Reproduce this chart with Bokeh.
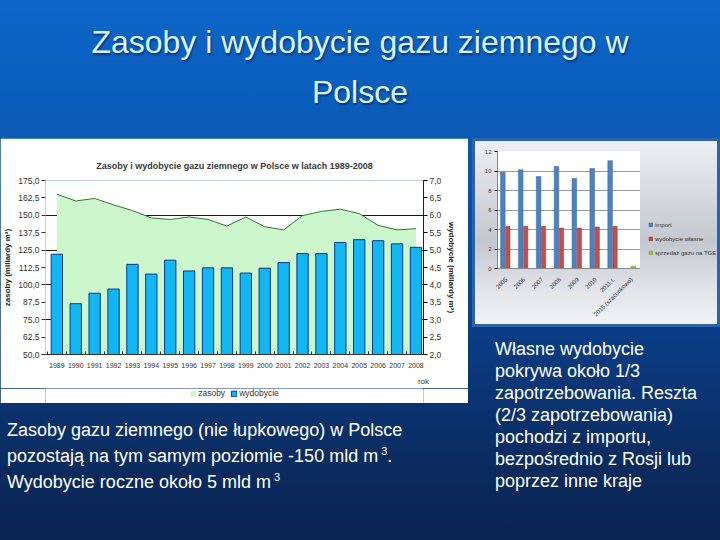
import numpy as np
from bokeh.plotting import figure
from bokeh.models import (Range1d, LinearAxis, FixedTicker, Legend, LegendItem,
                          ColumnDataSource, FactorRange, Spacer, Div)
from bokeh.layouts import column, row
from bokeh.embed import file_html
from bokeh.resources import INLINE
from bokeh.transform import dodge

FONT = "Liberation Sans"
SUP3 = "<sup style='font-size:11px;line-height:0;margin-left:3px'>3</sup>"

# ---------------- data ----------------
title_lines = ["Zasoby i wydobycie gazu ziemnego w", "Polsce"]
left_text = ["Zasoby gazu ziemnego (nie łupkowego) w Polsce",
             "pozostają na tym samym poziomie -150 mld m" + SUP3 + ".",
             "Wydobycie roczne około 5 mld m" + SUP3]
right_text = ["Własne wydobycie", "pokrywa około 1/3", "zapotrzebowania. Reszta",
              "(2/3 zapotrzebowania)", "pochodzi z importu,", "bezpośrednio z Rosji lub",
              "poprzez inne kraje"]

years = list(range(1989, 2009))
zasoby = [165.2, 160.3, 162.1, 157.5, 153.4, 148.1, 147.0, 148.8, 147.0, 142.3,
          148.8, 141.8, 139.5, 149.8, 152.8, 154.4, 151.2, 142.8, 139.5, 140.4]
wydobycie = [4.88, 3.46, 3.76, 3.88, 4.59, 4.31, 4.71, 4.40, 4.49, 4.49,
             4.34, 4.48, 4.64, 4.90, 4.90, 5.22, 5.30, 5.27, 5.18, 5.08]
zasoby_ticks = [50.0, 62.5, 75.0, 87.5, 100.0, 112.5, 125.0, 137.5, 150.0, 162.5, 175.0]
zasoby_tick_labels = ["50,0", "62,5", "75,0", "87,5", "100,0", "112,5", "125,0",
                      "137,5", "150,0", "162,5", "175,0"]
wyd_ticks = [2.0, 2.5, 3.0, 3.5, 4.0, 4.5, 5.0, 5.5, 6.0, 6.5, 7.0]
wyd_tick_labels = ["2,0", "2,5", "3,0", "3,5", "4,0", "4,5", "5,0", "5,5", "6,0", "6,5", "7,0"]

lata2 = ["2005", "2006", "2007", "2008", "2009", "2010", "2011 r.", "2015 (szacunkowo)"]
import_gazu = [9.86, 10.14, 9.44, 10.46, 9.23, 10.25, 11.06, np.nan]
wydobycie_wlasne = [4.33, 4.33, 4.33, 4.15, 4.15, 4.26, 4.33, np.nan]
sprzedaz_tge = [np.nan, np.nan, np.nan, np.nan, np.nan, np.nan, np.nan, 0.25]
ticks2 = [0, 2, 4, 6, 8, 10, 12]

AREA = dict(fill_color="#ccf6cc")
BAR = dict(fill_color="#12b6f2", line_color="#0a3a8a", line_width=1)
C_IMP = dict(fill_color="#4f81bd", line_color="#3b6aa0", line_width=0.5)
C_WYD = dict(fill_color="#c0504d", line_color="#9c3a38", line_width=0.5)
C_TGE = dict(fill_color="#9bbb59", line_color="#7a9a40", line_width=0.5)


def text_div(lines, w, h, pad_top, pad_left, size, lh, color, align="left", shadow=False):
    sh = "text-shadow: 1px 2px 2px rgba(0,20,70,0.55);" if shadow else ""
    body = "".join(f"<div style='white-space:nowrap;height:{lh}px;line-height:{lh}px'>{t}</div>"
                   for t in lines)
    html = (f"<div style='width:{w - pad_left}px;padding-top:{pad_top}px;padding-left:{pad_left}px;"
            f"font-family:\"{FONT}\";font-size:{size}px;color:{color};text-align:{align};{sh}'>"
            f"{body}</div>")
    return Div(text=html, width=w, height=h, margin=0,
               styles={"margin": "0", "padding": "0", "overflow": "hidden"})


def blank_fig(w, h, **kw):
    # a panel that only carries a legend; its own view (0..1) keeps the series out of sight
    f = figure(width=w, height=h, x_range=Range1d(0, 1), y_range=Range1d(0, 1),
               output_backend="svg", toolbar_location=None,
               x_axis_location=None, y_axis_location=None, **kw)
    f.grid.visible = False
    f.outline_line_color = None
    return f


# ---------------- title ----------------
tdiv = text_div(title_lines, 720, 138, 17, 0, 32, 50, "#dcf4ff", align="center", shadow=True)

# ---------------- left chart ----------------
lc = figure(width=468, height=250, x_range=Range1d(1988.4, 2008.4), y_range=Range1d(50, 175),
            output_backend="svg", toolbar_location=None,
            min_border_left=41, min_border_right=45, min_border_top=42, min_border_bottom=31)
lc.extra_y_ranges = {"w": Range1d(2, 7)}
lc.background_fill_color = "white"
lc.border_fill_color = "white"
lc.outline_line_color = None

lc.varea(x=years, y1=[50] * len(years), y2=zasoby, **AREA)
lc.line(x=years, y=zasoby, line_color="#2d7a2d", line_width=1)
lc.vbar(x=years, top=wydobycie, bottom=2, width=0.6, y_range_name="w", **BAR)

lc.title.text = "Zasoby i wydobycie gazu ziemnego w Polsce w latach 1989-2008"
lc.title.align = "center"
lc.title.text_font = FONT
lc.title.text_font_size = "9px"
lc.title.text_font_style = "bold"
lc.title.text_color = "#3a3a3a"
lc.title.standoff = 20

lc.xgrid.visible = False
lc.ygrid.ticker = FixedTicker(ticks=[75, 100, 125, 150, 175])
lc.ygrid.grid_line_color = "#1a1a1a"
lc.ygrid.grid_line_width = 1

ya = lc.yaxis[0]
ya.ticker = FixedTicker(ticks=zasoby_ticks)
ya.major_label_overrides = dict(zip(zasoby_ticks, zasoby_tick_labels))
ya.axis_line_color = None
ya.major_tick_out = 4
ya.major_tick_in = 0
ya.major_tick_line_color = "#333333"
ya.minor_tick_line_color = None
ya.major_label_text_font = FONT
ya.major_label_text_font_size = "8.5px"
ya.major_label_text_color = "#333333"
ya.major_label_standoff = 2
ya.axis_label = "zasoby (miliardy m³)"
ya.axis_label_text_font = FONT
ya.axis_label_text_font_size = "8px"
ya.axis_label_text_font_style = "bold"
ya.axis_label_text_color = "#222222"
ya.axis_label_standoff = 3

ra = LinearAxis(y_range_name="w", ticker=FixedTicker(ticks=wyd_ticks))
ra.major_label_overrides = dict(zip(wyd_ticks, wyd_tick_labels))
ra.axis_line_color = "#222222"
ra.major_tick_out = 4
ra.major_tick_in = 0
ra.minor_tick_line_color = None
ra.major_label_text_font = FONT
ra.major_label_text_font_size = "8.5px"
ra.major_label_text_color = "#333333"
ra.major_label_standoff = 2
ra.axis_label = "wydobycie (miliardy m³)"
ra.axis_label_text_font = FONT
ra.axis_label_text_font_size = "8px"
ra.axis_label_text_font_style = "bold"
ra.axis_label_text_color = "#222222"
ra.axis_label_standoff = 3
lc.add_layout(ra, "right")

xa = lc.xaxis[0]
xa.ticker = FixedTicker(ticks=years, minor_ticks=[y - 0.5 for y in years] + [years[-1] + 0.5])
xa.major_tick_in = 0
xa.major_tick_out = 0
xa.minor_tick_in = 3
xa.minor_tick_out = 0
xa.minor_tick_line_color = "#333333"
xa.axis_line_color = "#333333"
xa.major_label_text_font = FONT
xa.major_label_text_font_size = "7px"
xa.major_label_text_color = "#333333"
xa.major_label_standoff = 8
xa.axis_label = "rok"
xa.axis_label_align = "end"
xa.axis_label_text_font = FONT
xa.axis_label_text_font_size = "8px"
xa.axis_label_text_font_style = "normal"
xa.axis_label_text_color = "#333333"
xa.axis_label_standoff = 6

# legend strip under the left chart (series lie outside its 0..1 view)
lf = blank_fig(468, 15, min_border_left=41, min_border_right=45, min_border_top=0, min_border_bottom=0)
lf.background_fill_color = "white"
lf.border_fill_color = "white"
la = lf.varea(x=years, y1=[50] * len(years), y2=zasoby, **AREA)
lb = lf.vbar(x=years, top=wydobycie, bottom=2, width=0.6, **BAR)
leg = Legend(items=[LegendItem(label="zasoby", renderers=[la]),
                    LegendItem(label="wydobycie", renderers=[lb])],
             location="top_center", orientation="horizontal", border_line_color=None,
             background_fill_alpha=0, label_text_font=FONT, label_text_font_size="8.5px",
             label_text_color="#333333", glyph_width=7, glyph_height=7, spacing=5,
             padding=0, margin=0, label_standoff=2, label_height=9)
lf.add_layout(leg, "center")

# ---------------- left text ----------------
ldiv = text_div(left_text, 468, 137, 14, 7, 18, 26, "white")

# ---------------- right chart ----------------
src = ColumnDataSource(dict(kat=lata2, imp=import_gazu, wyd=wydobycie_wlasne, tge=sprzedaz_tge))
rc = figure(width=168, height=189, x_range=FactorRange(*lata2), y_range=Range1d(0, 12),
            output_backend="svg", toolbar_location=None,
            min_border_left=25, min_border_right=0, min_border_top=13, min_border_bottom=59)
rc.background_fill_color = "white"
rc.border_fill_alpha = 0
rc.outline_line_color = None
rc.vbar(x=dodge("kat", -0.2, range=rc.x_range), top="imp", width=0.26, source=src, **C_IMP)
rc.vbar(x=dodge("kat", 0.08, range=rc.x_range), top="wyd", width=0.24, source=src, **C_WYD)
rc.vbar(x=dodge("kat", 0.1, range=rc.x_range), top="tge", width=0.28, source=src, **C_TGE)
rc.xgrid.visible = False
rc.ygrid.ticker = FixedTicker(ticks=ticks2)
rc.ygrid.grid_line_color = "#9a9a9a"
ry = rc.yaxis[0]
ry.ticker = FixedTicker(ticks=ticks2)
ry.axis_line_color = "#888888"
ry.major_tick_out = 3
ry.major_tick_in = 0
ry.minor_tick_line_color = None
ry.major_label_text_font = FONT
ry.major_label_text_font_size = "6px"
ry.major_label_text_color = "#333333"
ry.major_label_standoff = 3
rx = rc.xaxis[0]
rx.major_label_orientation = np.pi / 4
rx.major_label_text_font = FONT
rx.major_label_text_font_size = "6px"
rx.major_label_text_color = "#333333"
rx.axis_line_color = "#888888"
rx.major_tick_line_color = None
rx.major_label_standoff = 4

# legend panel right of the small chart (series lie outside its 0..1 view)
rf = blank_fig(80, 189, min_border_left=0, min_border_right=0, min_border_top=13, min_border_bottom=59)
rf.background_fill_alpha = 0
rf.border_fill_alpha = 0
g1 = rf.vbar(x=import_gazu, top=import_gazu, bottom=5, width=0.5, **C_IMP)
g2 = rf.vbar(x=import_gazu, top=wydobycie_wlasne, bottom=2, width=0.5, **C_WYD)
g3 = rf.vbar(x=[5] * len(lata2), top=sprzedaz_tge, bottom=0, width=0.5, **C_TGE)
rleg = Legend(items=[LegendItem(label="import", renderers=[g1]),
                     LegendItem(label="wydobycie własne", renderers=[g2]),
                     LegendItem(label="sprzedaż gazu na TGE", renderers=[g3])],
              location=(8, 12), orientation="vertical", border_line_color=None,
              background_fill_alpha=0, label_text_font=FONT, label_text_font_size="6px",
              label_text_color="#333333", glyph_width=5, glyph_height=5, spacing=7,
              padding=0, margin=0, label_standoff=2, label_height=7)
rf.add_layout(rleg, "center")

# ---------------- right text ----------------
rdiv = text_div(right_text, 248, 213, 11, 23, 18, 22, "white")

# ---------------- layout ----------------
left_col = column(lc, lf, ldiv, spacing=0)
right_chart = row(rc, rf, spacing=0, width=248, height=189,
                  styles={"background": "linear-gradient(180deg, #f0f1f4 0%, #d6d9df 30%, "
                                        "#c3c7cf 55%, #dfe1e6 78%, #f3f4f6 100%)",
                          "outline": "3px solid #2c63aa", "outline-offset": "-3px"})
right_col = column(right_chart, rdiv, spacing=0)
body = row(left_col, Spacer(width=4, height=10), right_col, spacing=0)
page = column(tdiv, body, spacing=0, width=720, height=540,
              styles={"background": "linear-gradient(180deg, #0c66c8 0%, #0a5ab6 25%, #0a4290 55%, #0a2c60 85%, #0a2452 100%)"})

open("out.html", "w").write(file_html(page, INLINE))
